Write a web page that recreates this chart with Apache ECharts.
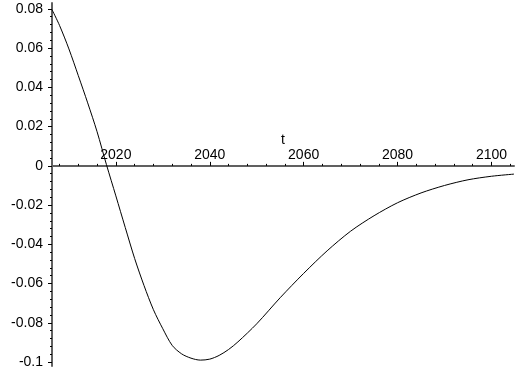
<!DOCTYPE html>
<html>
<head>
<meta charset="utf-8">
<script src="https://cdn.jsdelivr.net/npm/echarts@6/dist/echarts.min.js"></script>
<style>
  html, body { margin: 0; padding: 0; background: #fff; }
  #plot_box { width: 515px; height: 373px; }
</style>
</head>
<body>
<div id="plot_box"></div>
<script>
// curve (year, value)
var years = [2006.4, 2008, 2010, 2012, 2014, 2016, 2018, 2020, 2022, 2024, 2026, 2028,
  2030, 2032, 2034, 2036, 2038, 2040, 2042, 2044, 2046, 2050, 2055, 2060, 2065,
  2070, 2075, 2080, 2085, 2090, 2095, 2100, 2104.8];
var values = [0.0796, 0.0716, 0.0596, 0.0460, 0.0321, 0.0174, 0.0006, -0.0153, -0.0314,
  -0.0472, -0.0610, -0.0733, -0.0830, -0.0915, -0.0958, -0.0980, -0.0990, -0.0985,
  -0.0966, -0.0936, -0.0897, -0.0805, -0.0672, -0.0548, -0.0433, -0.0333, -0.0254,
  -0.0188, -0.0138, -0.0100, -0.0071, -0.0053, -0.0042];

// tick labels
var xTicks = [2020, 2040, 2060, 2080, 2100];
var yTicks = [0.08, 0.06, 0.04, 0.02, 0, -0.02, -0.04, -0.06, -0.08, -0.1];

// minor ticks: every 4 years / every 0.004
var xMinor = [];
for (var yr = 2008; yr <= 2104; yr += 4) {
  if (yr % 20 !== 0) xMinor.push(yr);
}
var yMinor = [];
for (var k = -25; k <= 20; k++) {
  if (k % 5 !== 0) yMinor.push(Math.round(k * 4) / 1000);
}

var xMin = 2006.4, xMax = 2104.8;
var yMin = -0.102, yMax = 0.083;
var axisColor = "#606060";
var font = "Liberation Sans, Arial, sans-serif";

var chart = echarts.init(document.getElementById("plot_box"));

var grid = { left: 52, top: 3, width: 462, height: 363 };
// move the x axis up from the grid bottom to where y = 0
var zeroShift = -grid.height * (0 - yMin) / (yMax - yMin);

chart.setOption({
  animation: false,
  backgroundColor: "#fff",
  grid: [grid, grid],
  xAxis: [
    {
      type: "value", gridIndex: 0, min: xMin, max: xMax,
      position: "bottom", offset: zeroShift,
      name: "t", nameLocation: "middle", nameGap: -33, nameMoveOverlap: false,
      nameTextStyle: { color: "#000", fontSize: 14, fontFamily: font },
      axisLine: { onZero: false, lineStyle: { color: axisColor, width: 2 } },
      axisTick: { customValues: xTicks, inside: true, length: 4, lineStyle: { color: "#000", width: 1 } },
      axisLabel: {
        customValues: xTicks, inside: true, margin: 4, color: "#000", fontSize: 14, fontFamily: font,
        formatter: function (v) { return String(v); }
      },
      splitLine: { show: false }
    },
    {
      type: "value", gridIndex: 1, min: xMin, max: xMax,
      position: "bottom", offset: zeroShift,
      axisLine: { show: false, onZero: false },
      axisTick: { customValues: xMinor, inside: true, length: 2, lineStyle: { color: "#000", width: 1 } },
      axisLabel: { show: false },
      splitLine: { show: false }
    }
  ],
  yAxis: [
    {
      type: "value", gridIndex: 0, min: yMin, max: yMax,
      axisLine: { show: true, lineStyle: { color: axisColor, width: 2 } },
      axisTick: { customValues: yTicks, length: 4, lineStyle: { color: "#000", width: 1 } },
      axisLabel: { customValues: yTicks, margin: 9, color: "#000", fontSize: 14, fontFamily: font },
      splitLine: { show: false }
    },
    {
      type: "value", gridIndex: 1, min: yMin, max: yMax,
      axisLine: { show: false },
      axisTick: { customValues: yMinor, length: 2, lineStyle: { color: "#000", width: 1 } },
      axisLabel: { show: false },
      splitLine: { show: false }
    }
  ],
  series: [
    {
      type: "line",
      xAxisIndex: 0, yAxisIndex: 0,
      data: years.map(function (y, i) { return [y, values[i]]; }),
      showSymbol: false,
      smooth: 0.3,
      lineStyle: { color: "#000", width: 1 }
    }
  ]
});
</script>
</body>
</html>
